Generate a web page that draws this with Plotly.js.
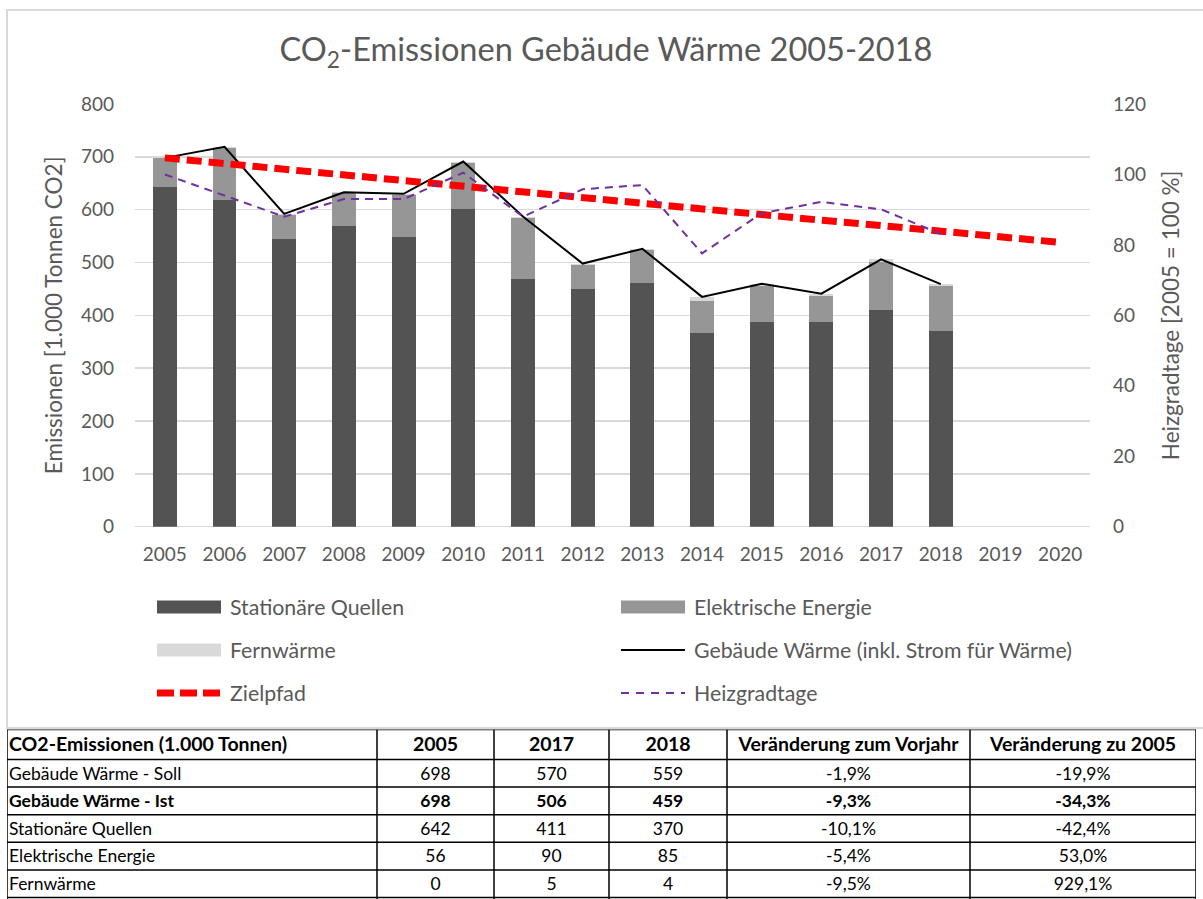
<!DOCTYPE html>
<html>
<head>
<meta charset="utf-8">
<script src="https://cdn.plot.ly/plotly-3.0.1.min.js"></script>
<style>html,body{margin:0;padding:0;background:#fff;}#chart{width:1203px;height:899px;}</style>
</head>
<body>
<div id="chart"></div>
<script>
// ---- data ----
const years = ['2005','2006','2007','2008','2009','2010','2011','2012','2013','2014','2015','2016','2017','2018','2019','2020'];
const dataYears = years.slice(0, 14);
const stationaer = [642, 618, 545, 570, 548, 601, 469, 450, 462, 367, 387, 387, 411, 370];
const elektrisch = [56, 99, 45, 61, 80, 88, 116, 45, 61, 60, 68, 50, 90, 85];
const fernwaerme = [0, 2, 2, 2, 2, 2, 2, 3, 3, 8, 5, 4, 5, 4];
const gebaeude = [698, 719, 592, 633, 630, 691, 587, 498, 526, 435, 460, 441, 506, 459];
const zielpfad = [698, 687, 677, 666, 655, 644, 634, 623, 613, 602, 591, 580, 570, 559, 548, 538];
const heizgradtage = [100, 94, 88, 93, 93, 100.5, 88, 95.8, 97, 77.6, 89, 92.2, 90.1, 83.1];

const seriesNames = ['Stationäre Quellen', 'Elektrische Energie', 'Fernwärme',
  'Gebäude Wärme (inkl. Strom für Wärme)', 'Zielpfad', 'Heizgradtage'];

const tableHeader = ['CO2-Emissionen (1.000 Tonnen)', '2005', '2017', '2018', 'Veränderung zum Vorjahr', 'Veränderung zu 2005'];
const rowLabels = ['Gebäude Wärme - Soll', 'Gebäude Wärme - Ist', 'Stationäre Quellen', 'Elektrische Energie', 'Fernwärme'];
const col2005 = [698, 698, 642, 56, 0];
const col2017 = [570, 506, 411, 90, 5];
const col2018 = [559, 459, 370, 85, 4];
const colVorjahr = ['-1,9%', '-9,3%', '-10,1%', '-5,4%', '-9,5%'];
const colZu2005 = ['-19,9%', '-34,3%', '-42,4%', '53,0%', '929,1%'];
const boldRow = 1;

// ---- styles / geometry ----
const FONT = 'Lato, "Open Sans", sans-serif';
const TXT = '#595959';
const W = 1203, H = 899;
const L = 135, R = 1090, T = 104, B = 526.7;
const px = x => x / W;
const py = y => 1 - y / H;

const cStat = '#535353', cElek = '#969696', cFern = '#d9d9d9';

// table geometry (in table-axis units = pixels)
const tabLeft = 7, tabTop = 729.5;
const colWidths = [370, 117, 115, 118, 243, 226];
const headerH = 30, rowH = 27.6, textShift = 2;
const tabWidth = colWidths.reduce((a, b) => a + b, 0);
const tabHeight = H - tabTop;

const traces = [
  { type: 'bar', name: seriesNames[0], x: dataYears, y: stationaer, marker: { color: cStat }, width: 0.4 },
  { type: 'bar', name: seriesNames[1], x: dataYears, y: elektrisch, marker: { color: cElek }, width: 0.4 },
  { type: 'bar', name: seriesNames[2], x: dataYears, y: fernwaerme, marker: { color: cFern }, width: 0.4 },
  { type: 'scatter', mode: 'lines', name: seriesNames[3], x: dataYears, y: gebaeude, line: { color: '#000000', width: 2 } },
  { type: 'scatter', mode: 'lines', name: seriesNames[4], x: years, y: zielpfad, line: { color: '#ff0000', width: 7, dash: '15px,7px' } },
  { type: 'scatter', mode: 'lines', name: seriesNames[5], x: dataYears, y: heizgradtage, yaxis: 'y2', line: { color: '#7030a0', width: 2, dash: '8px,6px' } }
];

// ---- table drawn on its own axes ----
const colEdges = [0];
colWidths.forEach(w => colEdges.push(colEdges[colEdges.length - 1] + w));
const colCenters = colWidths.map((w, i) => colEdges[i] + w / 2);
const rowCenters = rowLabels.map((_, i) => headerH + rowH * (i + 0.5) + textShift);
const tableCols = [rowLabels, col2005, col2017, col2018, colVorjahr, colZu2005];
const fmt = (v, i) => i === boldRow ? '<b>' + v + '</b>' : String(v);

traces.push({
  type: 'scatter', mode: 'text', xaxis: 'x3', yaxis: 'y3', cliponaxis: false, hoverinfo: 'skip',
  x: colCenters.map((c, i) => i === 0 ? colEdges[0] + 2 : c),
  y: tableHeader.map(() => headerH / 2 + textShift),
  text: tableHeader.map(h => '<b>' + h + '</b>'),
  textposition: tableHeader.map((_, i) => i === 0 ? 'middle right' : 'middle center'),
  textfont: { family: FONT, size: 19.5, color: '#000000' }
});
tableCols.forEach((col, ci) => {
  traces.push({
    type: 'scatter', mode: 'text', xaxis: 'x3', yaxis: 'y3', cliponaxis: false, hoverinfo: 'skip',
    x: col.map(() => ci === 0 ? colEdges[0] + 2 : colCenters[ci]),
    y: rowCenters,
    text: col.map(fmt),
    textposition: ci === 0 ? 'middle right' : 'middle center',
    textfont: { family: FONT, size: 17.5, color: '#000000' }
  });
});

// ---- frame + table grid + custom legend ----
const shapes = [
  { type: 'rect', xref: 'paper', yref: 'paper', x0: px(7), x1: px(1215), y0: py(728), y1: py(10),
    line: { color: '#d9d9d9', width: 2 }, fillcolor: 'rgba(0,0,0,0)', layer: 'below' }
];
const hLines = [0, headerH];
rowLabels.forEach((_, i) => hLines.push(headerH + rowH * (i + 1)));
hLines.forEach(y => shapes.push({ type: 'line', xref: 'x3', yref: 'y3', x0: 0, x1: tabWidth, y0: y, y1: y,
  line: { color: '#000000', width: 1.5 } }));
colEdges.forEach(x => shapes.push({ type: 'line', xref: 'x3', yref: 'y3', x0: x, x1: x, y0: 0, y1: tabHeight + 2,
  line: { color: '#000000', width: 1.5 } }));

const annotations = [];
const legendItems = [
  { kind: 'bar', color: cStat, x: 157, y: 607, name: seriesNames[0] },
  { kind: 'bar', color: cElek, x: 621, y: 607, name: seriesNames[1] },
  { kind: 'bar', color: cFern, x: 157, y: 650, name: seriesNames[2] },
  { kind: 'line', color: '#000000', width: 2, dash: 'solid', x: 621, y: 650, name: seriesNames[3] },
  { kind: 'line', color: '#ff0000', width: 7, dash: '17px,6px', x: 157, y: 693, name: seriesNames[4] },
  { kind: 'line', color: '#7030a0', width: 2, dash: '8px,7px', x: 621, y: 693, name: seriesNames[5] }
];
legendItems.forEach(it => {
  if (it.kind === 'bar') {
    shapes.push({ type: 'rect', xref: 'paper', yref: 'paper', x0: px(it.x), x1: px(it.x + 64),
      y0: py(it.y + 6.5), y1: py(it.y - 6.5), line: { width: 0 }, fillcolor: it.color });
  } else {
    shapes.push({ type: 'line', xref: 'paper', yref: 'paper', x0: px(it.x), x1: px(it.x + 64),
      y0: py(it.y), y1: py(it.y), line: { color: it.color, width: it.width, dash: it.dash } });
  }
  annotations.push({ xref: 'paper', yref: 'paper', x: px(it.x + 71), y: py(it.y), xanchor: 'left', yanchor: 'middle',
    text: it.name, showarrow: false, font: { family: FONT, size: 21.3, color: TXT } });
});

const layout = {
  width: W, height: H,
  margin: { l: 0, r: 0, t: 0, b: 0, pad: 0 },
  paper_bgcolor: '#ffffff', plot_bgcolor: 'rgba(0,0,0,0)',
  barmode: 'stack',
  showlegend: false,
  font: { family: FONT, color: TXT, size: 19 },
  title: { text: 'CO<sub>2</sub>-Emissionen Gebäude Wärme 2005-2018', x: px(606), xanchor: 'center', y: py(50), yanchor: 'middle',
    font: { family: FONT, size: 32.5, color: TXT } },
  xaxis: {
    domain: [px(L), px(R)],
    type: 'category', categoryorder: 'array', categoryarray: years, range: [-0.5, 15.5],
    showgrid: false, showline: false, zeroline: false, ticks: '', ticklabelstandoff: 14,
    tickfont: { family: FONT, size: 19, color: TXT }
  },
  yaxis: {
    domain: [py(B), py(T)],
    range: [0, 800], dtick: 100, showgrid: true, gridcolor: '#d9d9d9', gridwidth: 1.5,
    zeroline: true, zerolinecolor: '#d9d9d9', zerolinewidth: 1.5, showline: false, ticks: '',
    ticklabelstandoff: 20, tickfont: { family: FONT, size: 19, color: TXT },
    title: { text: 'Emissionen [1.000 Tonnen CO2]', standoff: 12, font: { family: FONT, size: 22.5, color: TXT } }
  },
  yaxis2: {
    domain: [py(B), py(T)],
    overlaying: 'y', side: 'right', range: [0, 120], dtick: 20, showgrid: false, zeroline: false,
    showline: false, ticks: '', ticklabelstandoff: 22, tickfont: { family: FONT, size: 19, color: TXT },
    title: { text: 'Heizgradtage [2005 = 100 %]', standoff: 18, font: { family: FONT, size: 22.5, color: TXT } }
  },
  xaxis3: {
    domain: [px(tabLeft), px(tabLeft + tabWidth)], anchor: 'y3', range: [0, tabWidth],
    visible: false, fixedrange: true
  },
  yaxis3: {
    domain: [0, py(tabTop)], anchor: 'x3', range: [tabHeight, 0],
    visible: false, fixedrange: true
  },
  shapes: shapes,
  annotations: annotations
};

Plotly.newPlot('chart', traces, layout, { displayModeBar: false, staticPlot: true });
</script>
</body>
</html>
